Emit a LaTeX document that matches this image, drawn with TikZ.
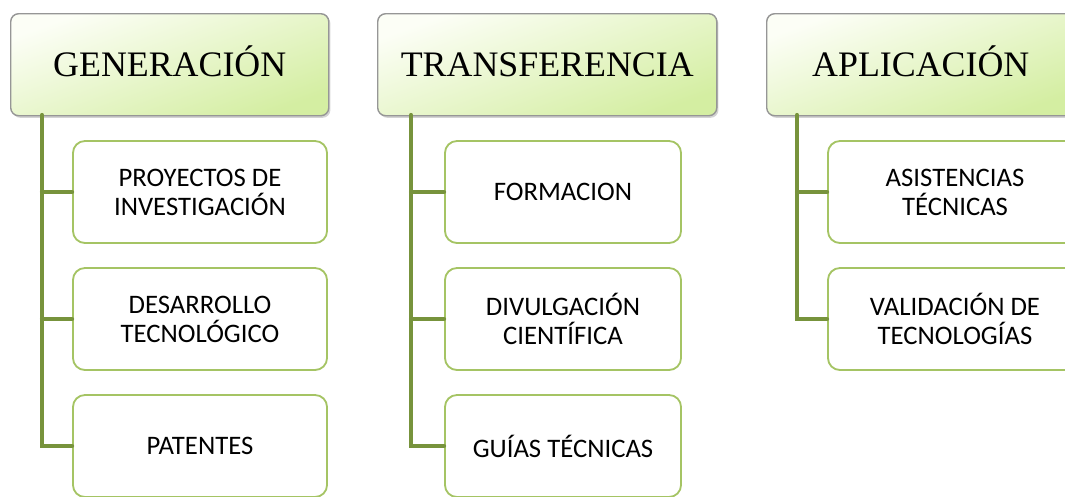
\documentclass[tikz,border=0pt]{standalone}
\usepackage{fontspec}
\setmainfont{Liberation Serif}
\newfontfamily\boxfont{Carlito}
\usetikzlibrary{positioning,shadows}
\definecolor{trunkgreen}{RGB}{119,147,60}
\definecolor{boxgreen}{RGB}{165,196,100}
\definecolor{headtop}{RGB}{252,254,246}
\definecolor{headbot}{RGB}{212,238,162}
\definecolor{headline}{RGB}{150,150,150}

\tikzset{
  head/.style={draw=headline, line width=1pt, rounded corners=0.2cm,
    top color=headtop, bottom color=headbot, shading angle=20,
    drop shadow={shadow xshift=1.2pt, shadow yshift=-1.5pt, opacity=0.35},
    minimum height=2.55cm, anchor=north west, inner sep=0pt,
    text height=16.9pt, text depth=0pt,
    font=\fontsize{25.5}{28}\selectfont},
  item/.style={draw=boxgreen, line width=1.3pt, rounded corners=0.3cm, fill=white,
    minimum height=2.55cm, align=center, inner sep=0pt,
    font=\boxfont\fontsize{19}{20.6}\selectfont},
  trunk/.style={draw=trunkgreen, line width=3pt, line cap=round}
}

\begin{document}
\begin{tikzpicture}[x=0.025cm,y=-0.025cm]
  \useasboundingbox (0,0) rectangle (1065,496);

  % column heads
  \node[head, minimum width=7.95cm] (gen) at (10,13) {GENERACIÓN};
  \node[head, minimum width=8.475cm] (tra) at (377,13) {TRANSFERENCIA};
  \node[head, minimum width=7.7cm] (apl) at (766,13) {APLICACIÓN};

  % generacion
  \node[item, minimum width=6.35cm] (gen1) at (200,192) {PROYECTOS DE\\INVESTIGACIÓN};
  \node[item, minimum width=6.35cm] (gen2) at (200,319) {DESARROLLO\\TECNOLÓGICO};
  \node[item, minimum width=6.35cm] (gen3) at (200,446) {PATENTES};

  % transferencia
  \node[item, minimum width=5.9cm] (tra1) at (563,192) {FORMACION};
  \node[item, minimum width=5.9cm] (tra2) at (563,319) {DIVULGACIÓN\\CIENTÍFICA};
  \node[item, minimum width=5.9cm] (tra3) at (563,446) {GUÍAS TÉCNICAS};

  % aplicacion
  \node[item, minimum width=6.35cm] (apl1) at (955,192) {ASISTENCIAS\\TÉCNICAS};
  \node[item, minimum width=6.35cm] (apl2) at (955,319) {VALIDACIÓN DE\\TECNOLOGÍAS};

  % trunks
  \coordinate (gt) at (42,115);
  \coordinate (tt) at (411,115);
  \coordinate (at) at (797,115);

  \draw[trunk] (gt) |- (gen3.west);
  \draw[trunk] (gen1.west) -- (gen1.west -| gt);
  \draw[trunk] (gen2.west) -- (gen2.west -| gt);

  \draw[trunk] (tt) |- (tra3.west);
  \draw[trunk] (tra1.west) -- (tra1.west -| tt);
  \draw[trunk] (tra2.west) -- (tra2.west -| tt);

  \draw[trunk] (at) |- (apl2.west);
  \draw[trunk] (apl1.west) -- (apl1.west -| at);
\end{tikzpicture}
\end{document}
